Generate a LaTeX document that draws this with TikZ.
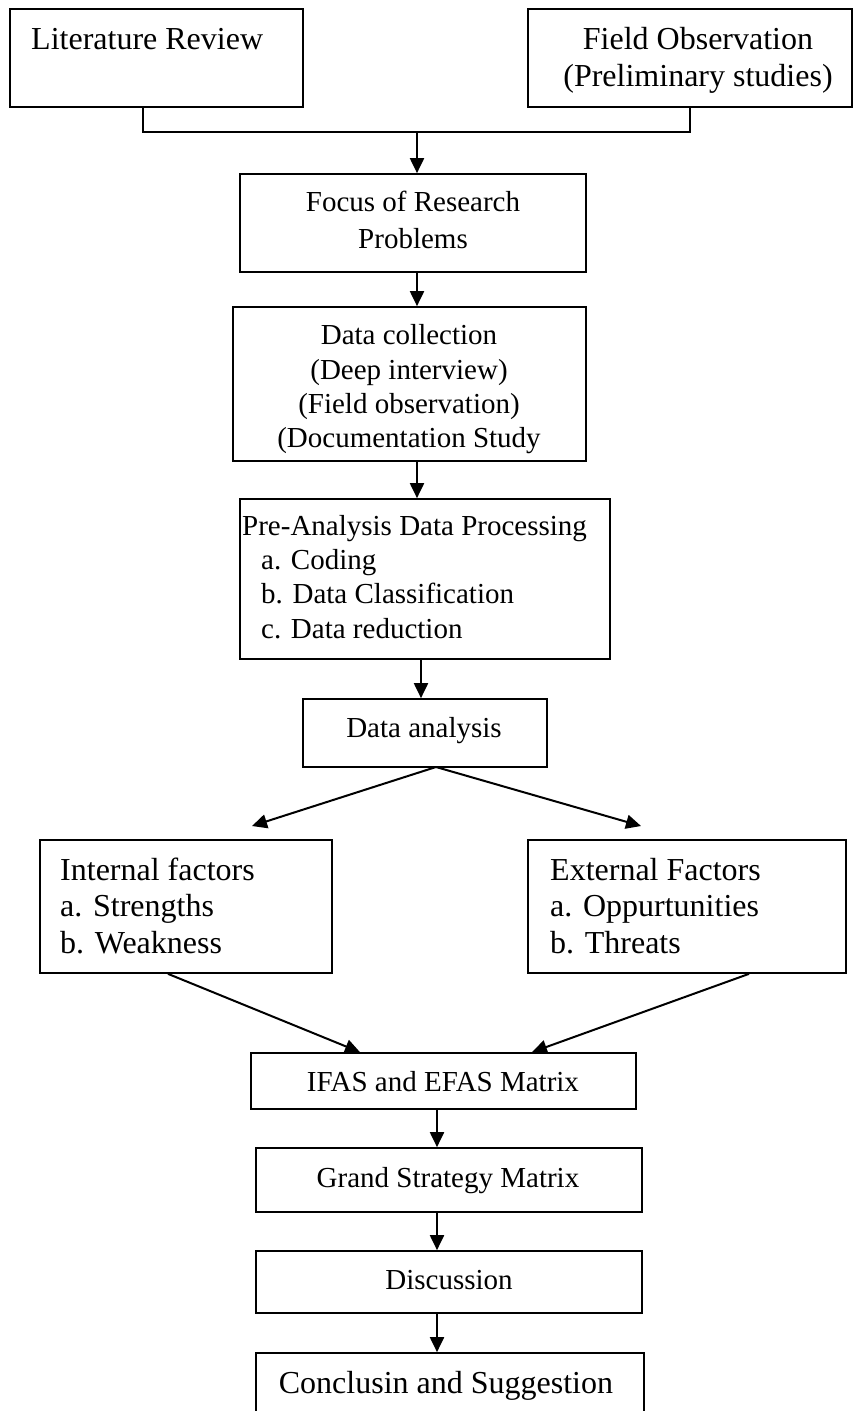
\documentclass[tikz,border=0pt]{standalone}
\usepackage{fontspec}
\setmainfont{Liberation Serif}
\usetikzlibrary{arrows.meta}
\begin{document}
\begin{tikzpicture}[x=1pt,y=-1pt,
  box/.style={draw,line width=1.7pt,inner sep=0pt,minimum width=#1},
  big/.style={inner sep=0pt,font=\fontsize{32}{38}\selectfont},
  small/.style={inner sep=0pt,font=\fontsize{29}{34}\selectfont},
  arr/.style={line width=2pt,-{Triangle[length=15pt,width=14pt]}},
  ln/.style={line width=2pt}]
\useasboundingbox (0,0) rectangle (854,1411);
% boxes
\node[box=293pt,minimum height=98pt] (lit) at (156.5,58) {};
\node[box=324pt,minimum height=98pt] (field) at (690,58) {};
\node[box=346pt,minimum height=98pt] (focus) at (413,223) {};
\node[box=353pt,minimum height=154pt] (dc) at (409.5,384) {};
\node[box=370pt,minimum height=160pt] (pre) at (425,579) {};
\node[box=244pt,minimum height=68pt] (da) at (425,733) {};
\node[box=292pt,minimum height=133pt] (int) at (186,906.5) {};
\node[box=318pt,minimum height=133pt] (ext) at (687,906.5) {};
\node[box=385pt,minimum height=56pt] (ifas) at (443.5,1081) {};
\node[box=386pt,minimum height=64pt] (grand) at (449,1180) {};
\node[box=386pt,minimum height=62pt] (disc) at (449,1282) {};
\node[box=388pt,minimum height=68pt] (concl) at (450,1387) {};
% texts
\node[big,anchor=base west] (litT) at (31,49) {Literature Review};
\node[big,anchor=base] (fieldT1) at (698,49) {Field Observation};
\node[big,anchor=base] (fieldT2) at (698,86) {(Preliminary studies)};
\node[small,anchor=base] (focusT1) at (413,211) {Focus of Research};
\node[small,anchor=base] (focusT2) at (413,248) {Problems};
\node[small,anchor=base] (dcT1) at (409,344) {Data collection};
\node[small,anchor=base] (dcT2) at (409,379) {(Deep interview)};
\node[small,anchor=base] (dcT3) at (409,413) {(Field observation)};
\node[small,anchor=base] (dcT4) at (409,447) {(Documentation Study};
\node[small,anchor=base west] (preT1) at (242,535) {Pre-Analysis Data Processing};
\node[small,anchor=base west] (preT2) at (261,569) {a. Coding};
\node[small,anchor=base west] (preT3) at (261,603) {b. Data Classification};
\node[small,anchor=base west] (preT4) at (261,638) {c. Data reduction};
\node[small,anchor=base] (daT) at (424,737) {Data analysis};
\node[big,anchor=base west] (intT1) at (60,880) {Internal factors};
\node[big,anchor=base west] (intT2) at (60,916) {a. Strengths};
\node[big,anchor=base west] (intT3) at (60,953) {b. Weakness};
\node[big,anchor=base west] (extT1) at (550,880) {External Factors};
\node[big,anchor=base west] (extT2) at (550,916) {a. Oppurtunities};
\node[big,anchor=base west] (extT3) at (550,953) {b. Threats};
\node[small,anchor=base] (ifasT) at (443,1091) {IFAS and EFAS Matrix};
\node[small,anchor=base] (grandT) at (448,1187) {Grand Strategy Matrix};
\node[small,anchor=base] (discT) at (449,1289) {Discussion};
\node[big,anchor=base] (conclT) at (446,1393) {Conclusin and Suggestion};
% connectors
\coordinate (j) at (417,132);
\coordinate (split) at (436,767);
\coordinate (tipL) at (252,826);
\coordinate (tipR) at (641,826);
\coordinate (mx) at (421,0);
\coordinate (lx) at (437,0);
\draw[ln] ([xshift=-13.5pt]lit.south) |- (j) -| (field.south);
\draw[arr] (j) -- (j |- focus.north);
\draw[arr] (focus.south -| j) -- (dc.north -| j);
\draw[arr] (dc.south -| j) -- (pre.north -| j);
\draw[arr] (pre.south -| mx) -- (da.north -| mx);
\draw[arr] (split) -- (tipL);
\draw[arr] (split) -- (tipR);
\draw[arr] ([xshift=-18pt]int.south) -- ([xshift=-83.5pt]ifas.north);
\draw[arr] ([xshift=62pt]ext.south) -- ([xshift=88.5pt]ifas.north);
\draw[arr] (ifas.south -| lx) -- (grand.north -| lx);
\draw[arr] (grand.south -| lx) -- (disc.north -| lx);
\draw[arr] (disc.south -| lx) -- (concl.north -| lx);
\end{tikzpicture}
\end{document}
